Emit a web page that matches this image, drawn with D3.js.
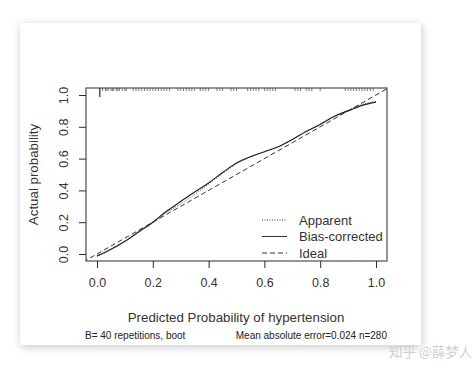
<!DOCTYPE html>
<html>
<head>
<meta charset="utf-8">
<script src="https://cdn.jsdelivr.net/npm/d3@7"></script>
<style>
  html, body { margin: 0; padding: 0; background: #fff; }
  text { font-family: "Liberation Sans", Arial, sans-serif; }
</style>
</head>
<body>
<svg id="chart" width="474" height="372"></svg>
<script>
// calibration curve data
const predX = [0, 0.05, 0.1, 0.15, 0.2, 0.25, 0.3, 0.35, 0.4, 0.45, 0.5, 0.55, 0.6, 0.65, 0.7, 0.75, 0.8, 0.85, 0.9, 0.95, 1.0];
const biasCorrected = [-0.012, 0.03, 0.08, 0.14, 0.2, 0.27, 0.33, 0.39, 0.447, 0.512, 0.572, 0.612, 0.643, 0.675, 0.72, 0.77, 0.815, 0.865, 0.9, 0.935, 0.955];
const apparent = [-0.015, 0.027, 0.078, 0.137, 0.195, 0.262, 0.315, 0.375, 0.44, 0.505, 0.567, 0.61, 0.643, 0.676, 0.722, 0.772, 0.818, 0.868, 0.905, 0.94, 0.958];
const xTicks = [0, 0.2, 0.4, 0.6, 0.8, 1.0];
const yTicks = [0, 0.2, 0.4, 0.6, 0.8, 1.0];
// rug of predicted probabilities along the top
const rugValues = [0.02, 0.03, 0.035, 0.04, 0.05, 0.055, 0.06, 0.07, 0.075, 0.08, 0.09, 0.1, 0.105,
  0.13, 0.14, 0.15, 0.16, 0.17, 0.18, 0.19, 0.2, 0.21, 0.22, 0.23, 0.24, 0.25, 0.26,
  0.29, 0.3, 0.31, 0.32, 0.33, 0.34, 0.35, 0.37, 0.38, 0.39, 0.4, 0.43, 0.44, 0.45,
  0.48, 0.49, 0.5, 0.54, 0.55, 0.56, 0.57, 0.58, 0.6, 0.61, 0.62, 0.63, 0.64,
  0.71, 0.72, 0.73, 0.75, 0.76, 0.77, 0.8, 0.89, 0.9, 0.91, 0.92, 0.93, 0.94, 0.95, 0.96, 0.97, 0.98, 0.99];
const legendLabels = ["Apparent", "Bias-corrected", "Ideal"];

const svg = d3.select("#chart");
const ink = "#2b2b2b";

// card with soft shadow
const defs = svg.append("defs");
const f = defs.append("filter").attr("id", "shadow")
  .attr("x", "-10%").attr("y", "-10%").attr("width", "120%").attr("height", "120%");
f.append("feDropShadow").attr("dx", 1).attr("dy", 2).attr("stdDeviation", 4)
  .attr("flood-color", "#000").attr("flood-opacity", 0.22);
svg.append("rect").attr("x", 20).attr("y", 23).attr("width", 401).attr("height", 322)
  .attr("fill", "#fff").attr("filter", "url(#shadow)");

const box = {left: 86, right: 387, top: 88, bottom: 261};
const x = d3.scaleLinear().domain([0, 1]).range([97, 376]);
const y = d3.scaleLinear().domain([0, 1]).range([254, 95]);

defs.append("clipPath").attr("id", "plotclip").append("rect")
  .attr("x", box.left).attr("y", box.top)
  .attr("width", box.right - box.left).attr("height", box.bottom - box.top);

// axes
const xAxis = svg.append("g").attr("transform", `translate(0,${box.bottom})`)
  .call(d3.axisBottom(x).tickValues(xTicks).tickSize(7).tickPadding(10).tickFormat(d3.format(".1f")));
const yAxis = svg.append("g").attr("transform", `translate(${box.left},0)`)
  .call(d3.axisLeft(y).tickValues(yTicks).tickSize(7).tickPadding(0).tickFormat(d3.format(".1f")));
[xAxis, yAxis].forEach(a => {
  a.select(".domain").remove();
  a.selectAll("line").attr("stroke", ink);
  a.selectAll("text").attr("fill", "#333").style("font-size", "12.5px");
});
yAxis.selectAll("text")
  .attr("x", 0).attr("dy", null)
  .attr("text-anchor", "middle")
  .attr("transform", "translate(-22,0) rotate(-90) translate(0,4)");

svg.append("rect")
  .attr("x", box.left).attr("y", box.top)
  .attr("width", box.right - box.left).attr("height", box.bottom - box.top)
  .attr("fill", "none").attr("stroke", ink).attr("stroke-width", 1);

// rug
const rug = svg.append("g").attr("stroke", "#555").attr("stroke-width", 0.8);
rug.selectAll("line").data(rugValues).join("line")
  .attr("x1", d => x(d)).attr("x2", d => x(d))
  .attr("y1", box.top).attr("y2", box.top + 3);
rug.append("line").attr("x1", x(0.01)).attr("x2", x(0.01))
  .attr("y1", box.top).attr("y2", box.top + 9).attr("stroke", ink).attr("stroke-width", 1.2);

const plot = svg.append("g").attr("clip-path", "url(#plotclip)");

// ideal
plot.append("line")
  .attr("x1", x(-0.05)).attr("y1", y(-0.05)).attr("x2", x(1.05)).attr("y2", y(1.05))
  .attr("stroke", "#333").attr("stroke-width", 1).attr("stroke-dasharray", "5,3");

const line = d3.line().x((d, i) => x(predX[i])).y(d => y(d)).curve(d3.curveMonotoneX);
plot.append("path").datum(apparent).attr("d", line)
  .attr("fill", "none").attr("stroke", "#555").attr("stroke-width", 1).attr("stroke-dasharray", "1,1.5");
plot.append("path").datum(biasCorrected).attr("d", line)
  .attr("fill", "none").attr("stroke", "#222").attr("stroke-width", 1.2);

// legend
const dashes = ["1,1.5", null, "5,3"];
const leg = svg.append("g");
legendLabels.forEach((lab, i) => {
  const ly = 220 + i * 16.5;
  leg.append("line").attr("x1", 262).attr("x2", 287).attr("y1", ly).attr("y2", ly)
    .attr("stroke", "#333").attr("stroke-width", 1).attr("stroke-dasharray", dashes[i]);
  leg.append("text").attr("x", 299).attr("y", ly).attr("dy", "0.36em")
    .attr("fill", "#333").style("font-size", "13px").text(lab);
});

// titles
svg.append("text").attr("x", (box.left + box.right) / 2 - 0.5).attr("y", 322)
  .attr("text-anchor", "middle").attr("fill", "#333").style("font-size", "13.3px")
  .text("Predicted Probability of hypertension");
svg.append("text").attr("transform", `translate(38,${(box.top + box.bottom) / 2}) rotate(-90)`)
  .attr("text-anchor", "middle").attr("fill", "#333").style("font-size", "13.3px")
  .text("Actual probability");
svg.append("text").attr("x", 85).attr("y", 339).attr("fill", "#222")
  .style("font-size", "10px").text("B= 40 repetitions, boot");
svg.append("text").attr("x", 387).attr("y", 339).attr("text-anchor", "end").attr("fill", "#222")
  .style("font-size", "10px").text("Mean absolute error=0.024 n=280");

// watermark
svg.append("text").attr("x", 389).attr("y", 357).attr("fill", "#d0d0d0")
  .style("font-family", "'Noto Sans CJK SC', sans-serif").style("font-size", "13.5px")
  .text("知乎 @薛梦人");
</script>
</body>
</html>
